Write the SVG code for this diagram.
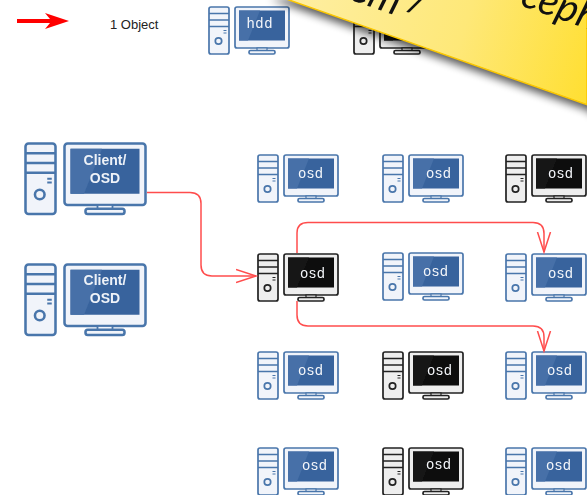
<svg xmlns="http://www.w3.org/2000/svg" width="587" height="495" viewBox="0 0 587 495">
<style>
text{font-family:"Liberation Sans",Arial,sans-serif}
.blue{--s:#4a76ab;--f:#f1f4fa;--m:#eef2f9;--sc:#38639d;--gl:#4670a8}
.black{--s:#222;--f:#eee;--m:#ececec;--sc:#0b0b0b;--gl:#171717}
.k{fill:var(--f);stroke:var(--s);stroke-width:1.700}
.sc{fill:var(--sc)}
.gl{fill:var(--gl)}
.osd{fill:#f4f6fa;font-size:14px;letter-spacing:1px;text-anchor:middle}
.cl{fill:#eef2f8;font-size:14px;font-weight:bold;text-anchor:middle}
.c{fill:none;stroke:#ff4d4d;stroke-width:1.500}
.banner-text{font-family:Lato,"Open Sans",sans-serif;font-style:italic;font-size:40px;fill:#111}
</style>
<defs>
<linearGradient id="bg" x1="300" y1="0" x2="587" y2="90" gradientUnits="userSpaceOnUse"><stop offset="0" stop-color="#feeea0"/><stop offset="0.55" stop-color="#fee878"/><stop offset="1" stop-color="#ffdf33"/></linearGradient>
<filter id="sh" x="-20%" y="-40%" width="140%" height="190%"><feGaussianBlur stdDeviation="4"/></filter>
<filter id="soft" x="-5%" y="-5%" width="110%" height="110%"><feGaussianBlur stdDeviation="0.450"/></filter>
<marker id="open" markerWidth="24" markerHeight="16" refX="20" refY="7" orient="auto" markerUnits="userSpaceOnUse" viewBox="0 0 24 14"><path d="M0 0.500 20 7 0 13.500" fill="none" stroke="#ff4d4d" stroke-width="1.500"/></marker>
<symbol id="pc" viewBox="0 0 82 49" width="82" height="49" overflow="visible">
<rect class="k" x="1" y="1" width="20" height="47" rx="2"/>
<path class="k" d="M1 7.500H21M1 14H21M1 20.500H21" fill="none"/>
<circle class="k" cx="10.500" cy="35" r="3.200"/>
<path d="M15.500 24.500h3M15.500 27h3" stroke="var(--s)" stroke-width="1.200"/>
<rect class="k" x="27" y="1" width="54" height="41" rx="2"/>
<rect class="sc" x="31" y="4.500" width="46" height="30"/>
<path class="gl" d="M31 4.500H52L40 34.500H31Z"/>
<rect class="k" x="49" y="42" width="10" height="3" style="stroke-width:1.200"/>
<rect class="k" x="41" y="44.500" width="26" height="3.500" rx="1.500"/>
</symbol>
</defs>

<path id="legend-arrow" d="M17 19H50L45 13 69 21 45 29 50 23H17Z" fill="#f00"/>
<text x="110" y="29" font-size="13" fill="#222">1 Object</text>

<g filter="url(#soft)">
<g id="hdd" class="blue"><use href="#pc" x="208" y="6"/><text class="osd" x="260" y="28">hdd</text></g>
<g id="top-black" class="black"><use href="#pc" x="353" y="6"/></g>
<g id="client1" class="blue"><use href="#pc" x="24" y="142" width="123" height="73.500"/><text class="cl" x="105" y="165">Client/</text><text class="cl" x="105" y="183">OSD</text></g>
<g id="client2" class="blue"><use href="#pc" x="24" y="263" width="123" height="73.500"/><text class="cl" x="105" y="285">Client/</text><text class="cl" x="105" y="303">OSD</text></g>
<g id="osd-r1c1" class="blue"><use href="#pc" x="257" y="154"/><text class="osd" x="311" y="178">osd</text></g>
<g id="osd-r1c2" class="blue"><use href="#pc" x="382" y="154"/><text class="osd" x="439" y="178">osd</text></g>
<g id="osd-r1c3" class="black"><use href="#pc" x="505" y="154"/><text class="osd" x="561" y="178">osd</text></g>
<g id="osd-r2c1" class="black"><use href="#pc" x="257" y="253"/><text class="osd" x="313" y="278">osd</text></g>
<g id="osd-r2c2" class="blue"><use href="#pc" x="382" y="252"/><text class="osd" x="436" y="276">osd</text></g>
<g id="osd-r2c3" class="blue"><use href="#pc" x="505" y="253"/><text class="osd" x="561" y="278">osd</text></g>
<g id="osd-r3c1" class="blue"><use href="#pc" x="257" y="351"/><text class="osd" x="311" y="375">osd</text></g>
<g id="osd-r3c2" class="black"><use href="#pc" x="382" y="351"/><text class="osd" x="440" y="375">osd</text></g>
<g id="osd-r3c3" class="blue"><use href="#pc" x="505" y="351"/><text class="osd" x="560" y="375">osd</text></g>
<g id="osd-r4c1" class="blue"><use href="#pc" x="257" y="447"/><text class="osd" x="315" y="470">osd</text></g>
<g id="osd-r4c2" class="black"><use href="#pc" x="382" y="447"/><text class="osd" x="439" y="469">osd</text></g>
<g id="osd-r4c3" class="blue"><use href="#pc" x="505" y="447"/><text class="osd" x="559" y="470">osd</text></g>
</g>

<g id="connectors">
<path class="c" d="M147 192.500H190Q201 192.500 201 203.500V265Q201 276 212 276H256" marker-end="url(#open)"/>
<path class="c" d="M297 253V233Q297 222.500 308 222.500H533Q544 222.500 544 233.500V252" marker-end="url(#open)"/>
<path class="c" d="M297 301V315Q297 326 308 326H533Q544 326 544 337V351" marker-end="url(#open)"/>
</g>

<g id="banner">
<path d="M270 -6 587 105 600 115 600 -10Z" fill="#000" opacity="0.650" filter="url(#sh)" transform="translate(0 5)"/>
<path d="M272 -6 587 104.600V-10H272Z" fill="url(#bg)" stroke="#fbc700" stroke-width="1.500"/>
<text class="banner-text" transform="translate(348 -1) rotate(19.300)">em<tspan dx="9" dy="-9">/</tspan></text>
<text class="banner-text" transform="translate(519 5) rotate(19.300)">ceph</text>
</g>
</svg>
